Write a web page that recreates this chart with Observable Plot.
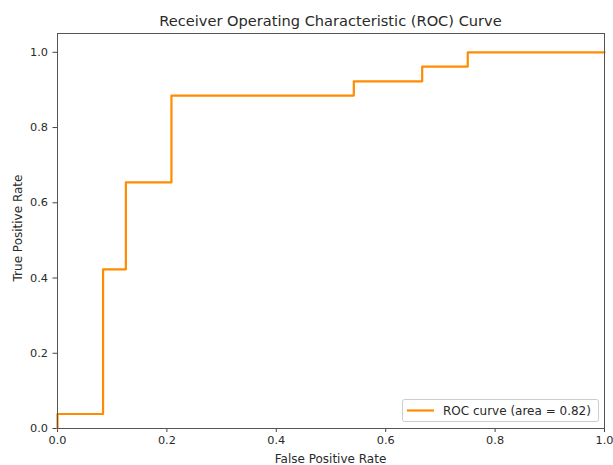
<!DOCTYPE html>
<html>
<head>
<meta charset="utf-8">
<script src="https://cdn.jsdelivr.net/npm/d3@7"></script>
<script src="https://cdn.jsdelivr.net/npm/@observablehq/plot@0.6"></script>
<style>
  html, body { margin: 0; padding: 0; background: #fff; }
  svg { font-family: "DejaVu Sans", sans-serif; }
</style>
</head>
<body>
<div id="chart"></div>
<script>
// ROC curve data
const fpr = [0, 0, 0.0833, 0.0833, 0.125, 0.125, 0.2083, 0.2083, 0.5417, 0.5417, 0.6667, 0.6667, 0.75, 0.75, 1.0];
const tpr = [0, 0.0385, 0.0385, 0.423, 0.423, 0.654, 0.654, 0.885, 0.885, 0.923, 0.923, 0.962, 0.962, 1.0, 1.0];
const xTicks = [0, 0.2, 0.4, 0.6, 0.8, 1.0];
const yTicks = [0, 0.2, 0.4, 0.6, 0.8, 1.0];
const titleText = "Receiver Operating Characteristic (ROC) Curve";
const xLabel = "False Positive Rate";
const yLabel = "True Positive Rate";
const legendText = "ROC curve (area = 0.82)";
const lineColor = "#ff8c00";

const data = fpr.map((x, i) => ({x, y: tpr[i]}));

const W = 613, H = 465;
const mL = 57, mR = 9, mT = 33, mB = 37;

const chart = Plot.plot({
  width: W,
  height: H,
  marginLeft: mL,
  marginRight: mR,
  marginTop: mT,
  marginBottom: mB,
  style: {fontFamily: "DejaVu Sans, sans-serif", fontSize: "11.3px", color: "#2a2a2a", background: "#fff"},
  x: {domain: [0, 1], label: null},
  y: {domain: [0, 1.05], label: null},
  marks: [
    Plot.axisX({ticks: xTicks, tickFormat: d3.format(".1f"), tickSize: 4, tickPadding: 3, stroke: "#444", fontSize: 11.3, label: null}),
    Plot.axisY({ticks: yTicks, tickFormat: d3.format(".1f"), tickSize: 4.5, tickPadding: 5, stroke: "#444", fontSize: 11.3, label: null}),
    Plot.line(data, {x: "x", y: "y", stroke: lineColor, strokeWidth: 2.2, curve: "linear"}),
    Plot.frame({stroke: "#555", strokeWidth: 1})
  ]
});

document.getElementById("chart").appendChild(chart);

const svg = d3.select(chart);
const plotCx = mL + (W - mL - mR) / 2;

svg.append("text")
  .attr("x", plotCx).attr("y", 26)
  .attr("text-anchor", "middle")
  .attr("font-size", 14.6).attr("fill", "#2a2a2a")
  .text(titleText);

svg.append("text")
  .attr("x", plotCx).attr("y", 462.5)
  .attr("text-anchor", "middle")
  .attr("font-size", 12).attr("fill", "#2a2a2a")
  .text(xLabel);

svg.append("text")
  .attr("transform", `translate(22,228) rotate(-90)`)
  .attr("text-anchor", "middle")
  .attr("font-size", 12).attr("fill", "#2a2a2a")
  .text(yLabel);

// legend
const lg = svg.append("g");
lg.append("rect")
  .attr("x", 402.5).attr("y", 399.5).attr("width", 196).attr("height", 22)
  .attr("rx", 2).attr("fill", "#fff").attr("stroke", "#ccc");
lg.append("line")
  .attr("x1", 407).attr("x2", 434).attr("y1", 410.5).attr("y2", 410.5)
  .attr("stroke", lineColor).attr("stroke-width", 2.2);
lg.append("text")
  .attr("x", 443).attr("y", 415)
  .attr("text-anchor", "start")
  .attr("font-size", 12).attr("fill", "#2a2a2a")
  .text(legendText);
</script>
</body>
</html>
